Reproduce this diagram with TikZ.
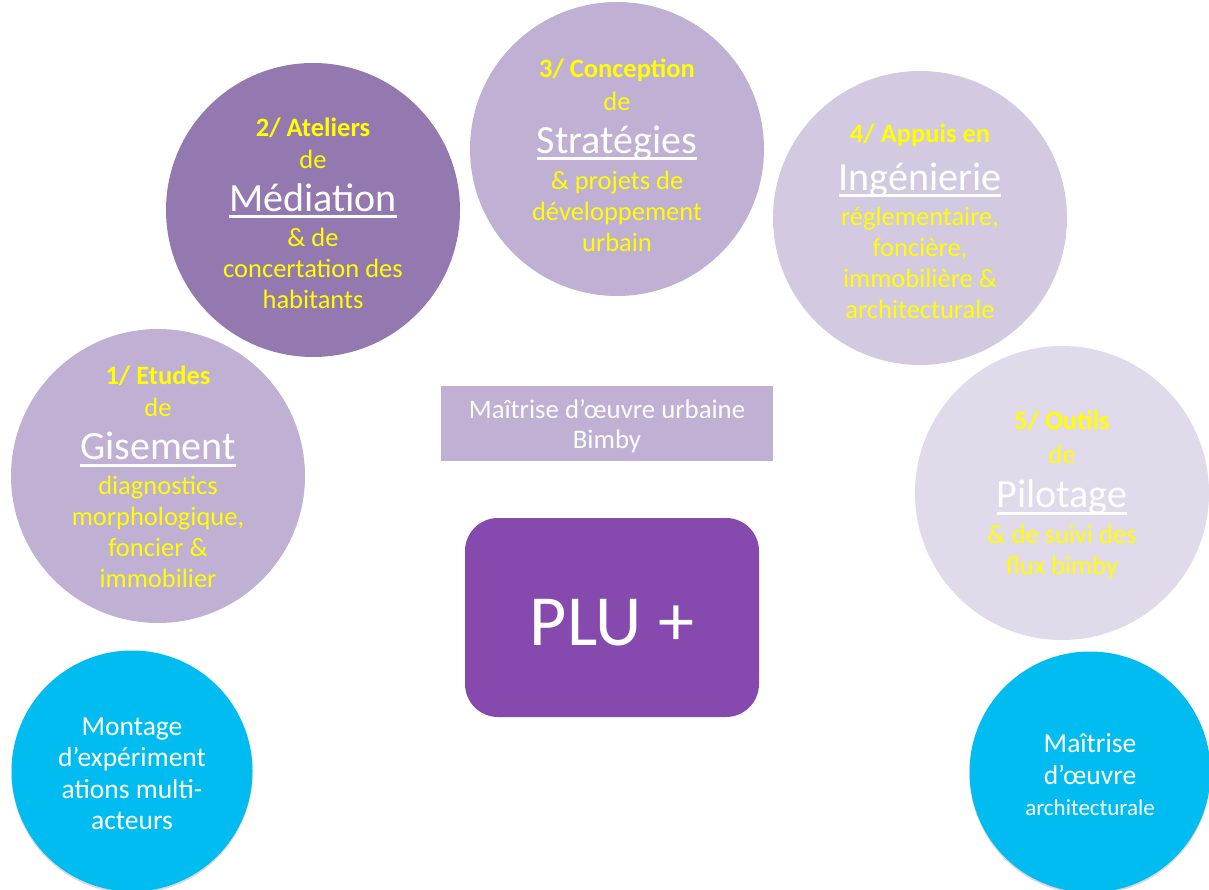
\documentclass[tikz,border=0pt]{standalone}
\usepackage{fontspec}
\setmainfont{Carlito}
\usetikzlibrary{shadows}
\definecolor{purpdark}{HTML}{9379B0}
\definecolor{purpmid}{HTML}{C0B0D3}
\definecolor{purplight}{HTML}{D3CAE1}
\definecolor{purppale}{HTML}{E0DAEA}
\definecolor{plum}{HTML}{8649AE}
\definecolor{skyblue}{HTML}{00BCF1}
\definecolor{yel}{HTML}{FFFF00}
\newcommand{\bigul}[1]{{\fontsize{40}{42}\selectfont\color{white}\setbox0\hbox{#1}\rlap{\rule[-7pt]{\wd0}{3pt}}\box0}}
\tikzset{
  disc/.style={circle, minimum size=294pt, inner sep=0pt, draw=none},
  disctext/.style={align=center, font=\fontsize{26.5}{31}\selectfont, text=yel, inner sep=0pt},
  bluedisc/.style={circle, fill=skyblue, minimum size=241pt, inner sep=0pt,
    drop shadow={shadow xshift=0pt, shadow yshift=-2pt, opacity=.25, fill=black!60}},
  bluetext/.style={align=center, font=\fontsize{27.5}{31.5}\selectfont, text=white, inner sep=0pt},
  boxlabel/.style={fill=purpmid, minimum width=332pt, minimum height=75pt, inner sep=0pt},
  boxtext/.style={align=center, font=\fontsize{26.8}{30}\selectfont, text=white, inner sep=0pt},
  plubox/.style={fill=plum, rounded corners=33pt, minimum width=294pt, minimum height=199pt,
    inner sep=0pt},
  plutext/.style={font=\fontsize{72}{80}\selectfont, text=white, inner sep=0pt}
}
\begin{document}
\begin{tikzpicture}[x=1pt,y=-1pt]
\useasboundingbox (0,0) rectangle (1209,890);
% circles
\node[disc, fill=purpmid] (c1) at (158,476) {};
\node[disc, fill=purpdark] (c2) at (313,210) {};
\node[disc, fill=purpmid] (c3) at (617,149) {};
\node[disc, fill=purplight] (c4) at (920,218) {};
\node[disc, fill=purppale] (c5) at (1062,493) {};
% texts
\node[disctext] (t1) at ([yshift=-1pt]c1.center)
  {{\bfseries 1/ Etudes}\\[1pt] de\\[12pt] \bigul{Gisement}\\[4pt] diagnostics\\ morphologique,\\ foncier \&\\ immobilier};
\node[disctext] (t2) at ([yshift=-3pt]c2.center)
  {{\bfseries 2/ Ateliers}\\[1pt] de\\[12pt] \bigul{Médiation}\\[4pt] \& de\\ concertation des\\ habitants};
\node[disctext] (t3) at ([yshift=-6pt]c3.center)
  {{\bfseries 3/ Conception}\\[2pt] de\\[12pt] \bigul{Stratégies}\\[5pt] \& projets de\\ développement\\ urbain};
\node[disctext] (t4) at ([yshift=-3pt]c4.center)
  {{\bfseries 4/ Appuis en}\\[15pt] \bigul{Ingénierie}\\[4pt] réglementaire,\\ foncière,\\ immobilière \&\\ architecturale};
\node[disctext] (t5) at ([yshift=-2pt]c5.center)
  {{\bfseries 5/ Outils}\\[3pt] de\\[13pt] \bigul{Pilotage}\\[5pt] \& de suivi des\\ flux bimby};
% center boxes
\node[boxlabel] (moe) at (607,423.5) {};
\node[boxtext] (moet) at ([yshift=-3pt]moe.center) {Maîtrise d’œuvre urbaine\\ Bimby};
\node[plubox] (plu) at (612,617.5) {};
\node[plutext] (plut) at ([yshift=-5pt]plu.center) {PLU +};
% blue circles
\node[bluedisc] (b1) at (132,771) {};
\node[bluetext] (bt1) at ([yshift=-3pt]b1.center) {Montage\\ d’expériment\\ ations multi-\\ acteurs};
\node[bluedisc] (b2) at (1090,772) {};
\node[bluetext] (bt2) at ([yshift=-3pt]b2.center) {Maîtrise\\ d’œuvre\\ {\fontsize{23}{29}\selectfont architecturale}};
\end{tikzpicture}
\end{document}
